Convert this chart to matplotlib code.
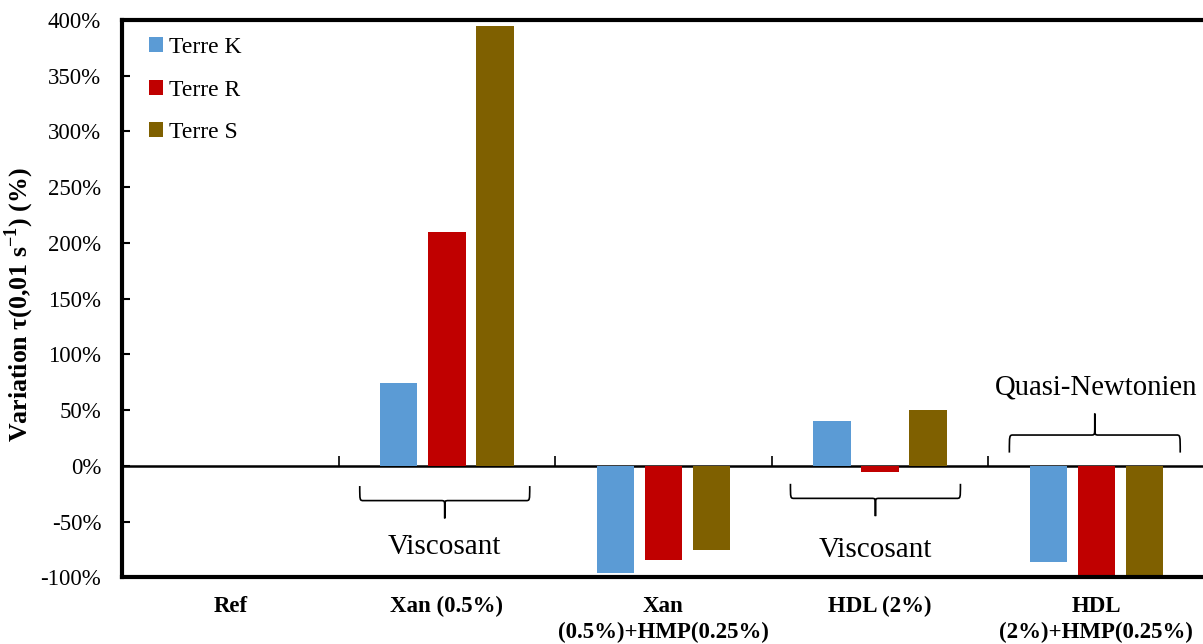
import numpy as np
import matplotlib
matplotlib.use("Agg")
import matplotlib.pyplot as plt
from matplotlib.path import Path
from matplotlib.patches import PathPatch
from matplotlib.ticker import FuncFormatter

plt.rcParams['font.family'] = ['Liberation Serif', 'DejaVu Serif']
plt.rcParams['mathtext.fontset'] = 'custom'
plt.rcParams['mathtext.rm'] = 'Liberation Serif'
plt.rcParams['mathtext.bf'] = 'Liberation Serif:bold'

# --- data ---
categories = ["Ref", "Xan (0.5%)", "Xan\n(0.5%)+HMP(0.25%)", "HDL (2%)", "HDL\n(2%)+HMP(0.25%)"]
terre_k = [0, 74, -96, 40, -86]
terre_r = [0, 210, -84, -5, -100]
terre_s = [0, 395, -75, 50, -100]
series_names = ["Terre K", "Terre R", "Terre S"]
colors = ["#5B9BD5", "#C00000", "#7F6000"]


def brace(ax, x0, x1, y_end, y_tip, r=0.018):
    """curly brace from x0 to x1, ends at y_end, pointing to y_tip"""
    xc = (x0 + x1) / 2
    y_mid = y_end + (y_tip - y_end) * 0.45
    y_q = y_mid + (y_tip - y_mid) * 0.45
    verts, codes = [], []
    for a, s in [(x0, 1), (x1, -1)]:
        verts += [(a, y_end), (a, y_mid), (a, y_mid), (a + s * r, y_mid),
                  (xc - s * r, y_mid),
                  (xc, y_mid), (xc, y_mid), (xc, y_q),
                  (xc, y_tip)]
        codes += [Path.MOVETO, Path.CURVE4, Path.CURVE4, Path.CURVE4,
                  Path.LINETO,
                  Path.CURVE4, Path.CURVE4, Path.CURVE4,
                  Path.LINETO]
    ax.add_patch(PathPatch(Path(verts, codes), fill=False, lw=1.2,
                           edgecolor="black", clip_on=False))


fig = plt.figure(figsize=(12.03, 6.44), dpi=100)
ax = fig.add_axes([0.1014, 0.1033, 0.9000, 0.8657])

x = np.arange(len(categories))
w = 0.173
step = 0.222
for i, (vals, name, c) in enumerate(zip([terre_k, terre_r, terre_s], series_names, colors)):
    ax.bar(x + (i - 1) * step, vals, width=w, color=c, label=name)

ax.set_xlim(-0.5, len(categories) - 0.5)
ax.set_ylim(-100, 400)
ax.set_yticks(np.arange(-100, 401, 50))
ax.yaxis.set_major_formatter(FuncFormatter(lambda v, p: f"{v:.0f}%"))
ax.tick_params(axis='y', direction='in', length=6, width=1.5, labelsize=16.5, pad=15)

ax.set_xticks(x)
ax.set_xticklabels(categories, fontsize=16.5, fontweight='bold', linespacing=1.3)
ax.tick_params(axis='x', length=0, pad=13)

for s in ['left', 'top', 'bottom']:
    ax.spines[s].set_linewidth(3)
ax.spines['right'].set_visible(False)

# zero line with category separator ticks
sec = ax.secondary_xaxis(0.2)
sec.set_xticks(x[:-1] + 0.5)
sec.set_xticklabels([])
sec.tick_params(direction='in', length=7, width=1.2)
sec.spines['bottom'].set_linewidth(1.8)

ax.set_ylabel("Variation τ(0,01 s$^{\\mathbf{-1}}$) (%)", fontsize=18.6, fontweight='bold')
ax.yaxis.set_label_coords(-0.079, 0.489)

ax.legend(loc='upper left', bbox_to_anchor=(0.005, 1.007), frameon=False, fontsize=17,
          handlelength=0.6, handleheight=0.6, handletextpad=0.25, labelspacing=0.9)

# annotations
brace(ax, 0.598, 1.383, -18, -47)
ax.text(0.99, -73, "Viscosant", fontsize=21, ha='center', va='center')
brace(ax, 2.587, 3.372, -16, -45)
ax.text(2.98, -75, "Viscosant", fontsize=21, ha='center', va='center')
brace(ax, 3.598, 4.387, 12, 47)
ax.text(4.0, 70, "Quasi-Newtonien", fontsize=20.7, ha='center', va='center')

fig.savefig("out.png", dpi=100)
